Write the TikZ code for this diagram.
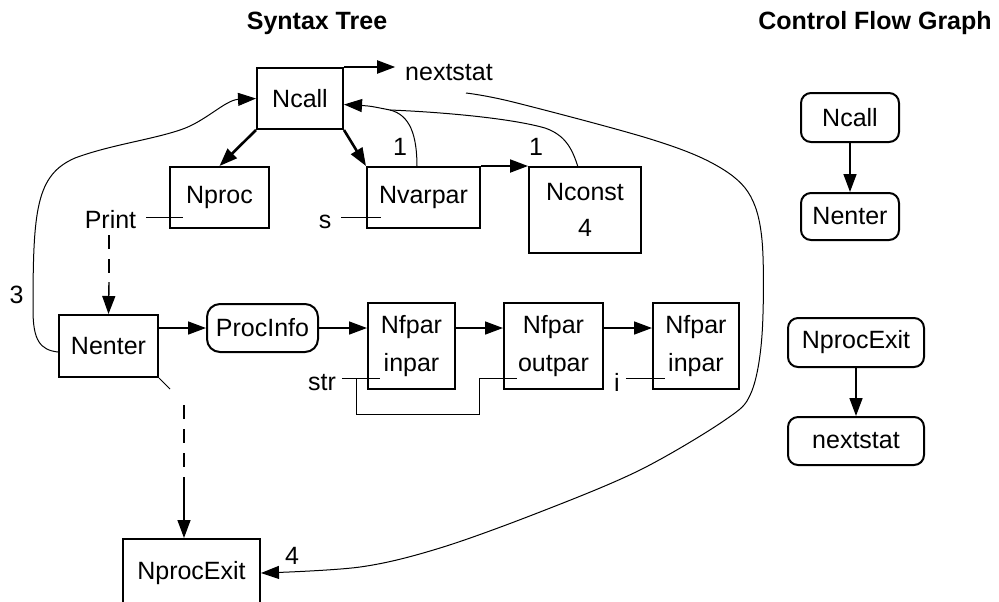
\documentclass[tikz,border=0pt]{standalone}
\usepackage{fontspec}
\setmainfont{Liberation Sans}
\usetikzlibrary{arrows.meta}
\begin{document}
\begin{tikzpicture}[x=0.5pt, y=-0.5pt, font=\fontsize{12.5}{15}\selectfont, line join=miter, >={Triangle[length=9pt,width=6.5pt]},
	box/.style={draw, line width=1pt, inner sep=0pt, align=center},
	rbox/.style={box, rounded corners=5pt},
	lbl/.style={inner sep=0pt, outer sep=5pt},
	thin/.style={line width=0.5pt},
	title/.style={font=\fontsize{12.5}{15}\selectfont\bfseries}]
	\useasboundingbox (0,0) rectangle (999,601);
	\node[title] (stitle) at (317,23) {Syntax Tree};
	\node[title] (ctitle) at (875,23) {Control Flow Graph};
	\node[box, minimum width=43pt, minimum height=30.5pt] (ncall) at (300,98.5) {Ncall};
	\node[box, minimum width=49.5pt, minimum height=30.5pt] (nproc) at (219.5,197.5) {Nproc};
	\node[box, minimum width=56.5pt, minimum height=30.5pt] (nvarpar) at (423.5,197.5) {Nvarpar};
	\node[box, minimum width=56pt, minimum height=43pt] (nconst) at (585,210) {Nconst\\[3pt]4};
	\node[box, minimum width=49.5pt, minimum height=31pt] (nenter) at (108.5,346) {Nenter};
	\node[rbox, rounded corners=6.5pt, minimum width=55.5pt, minimum height=24pt] (procinfo) at (262.5,328) {ProcInfo};
	\node[box, minimum width=43.5pt, minimum height=43pt] (nfparA) at (411.5,346) {Nfpar\\[4pt]inpar};
	\node[box, minimum width=49.5pt, minimum height=43pt] (nfparB) at (553.5,346) {Nfpar\\[4pt]outpar};
	\node[box, minimum width=43pt, minimum height=43pt] (nfparC) at (696,346) {Nfpar\\[4pt]inpar};
	\node[box, minimum width=68.5pt, minimum height=34pt] (nprocexit) at (191.5,573) {NprocExit};
	\node[lbl] (lnext) at (449,72.5) {nextstat};
	\node[lbl] (lprint) at (110.5,220) {Print};
	\node[lbl] (ls) at (325,221.5) {s};
	\node[lbl, outer sep=3pt] (lstr) at (322,383) {str};
	\node[lbl, outer sep=3pt] (li) at (617,382) {i};
	\node[lbl] (lthree) at (16.5,295) {3};
	\node[lbl] (loneA) at (400,147) {1};
	\node[lbl] (loneB) at (536,147) {1};
	\node[lbl] (lfour) at (292,556) {4};
	\coordinate (nprocin) at (183,217);
	\coordinate (nvarparin) at (381,217);
	\coordinate (inparA) at (380,378);
	\coordinate (outparB) at (517,378);
	\coordinate (inparC) at (665,378);
	\coordinate (strtap) at (356,378);
	\coordinate (loop) at (479,414);
	\coordinate (vtap) at (417,167);
	\coordinate (ctap) at (578,167);
	\coordinate (merge) at (390,110);
	\coordinate (nsfree) at (466,93);
	\coordinate (ntail) at (170,389);
	\coordinate (ptop) at (109,235);
	\coordinate (pmid) at (109,282);
	\coordinate (dtop) at (184,405);
	\coordinate (dmid) at (184,478);
	\draw[->, line width=1pt] (ncall.north east) -- (lnext.west |- ncall.north east);
	\draw[->, line width=1.3pt] (ncall.south west) -- (nproc.north);
	\draw[->, line width=1.3pt] (ncall.south east) -- (nvarpar.north west);
	\draw[->, line width=1pt] (nvarpar.north east) -- (nconst.north west);
	\draw[->, line width=0.8pt] (nenter.east |- procinfo) -- (procinfo.west);
	\draw[->, line width=0.8pt] (procinfo.east) -- (procinfo.east -| nfparA.west);
	\draw[->, line width=0.8pt] (nfparA.east |- procinfo) -- (nfparB.west |- procinfo);
	\draw[->, line width=0.8pt] (nfparB.east |- procinfo) -- (nfparC.west |- procinfo);
	\draw[thin] (lprint.east |- nprocin) -- (nprocin);
	\draw[thin] (ls.east |- nvarparin) -- (nvarparin);
	\draw[thin] (lstr.east |- inparA) -- (inparA);
	\draw[thin] (strtap) |- (loop) |- (outparB);
	\draw[thin] (li.east |- inparC) -- (inparC);
	\draw[thin] (nenter.south east) -- (ntail);
	\draw[line width=0.7pt, dash pattern=on 7pt off 5pt] (ptop) -- (pmid);
	\draw[->, line width=0.7pt] (pmid) -- (nenter.north);
	\draw[line width=0.7pt, dash pattern=on 7pt off 5pt] (dtop) -- (dmid);
	\draw[->, line width=0.7pt] (dmid) -- (dmid |- nprocexit.north);
	\draw[thin, ->] (vtap) .. controls (417,135) and (410,115) .. (merge) .. controls (370,106) .. ([yshift=-3pt]ncall.east);
	\draw[thin] (ctap) .. controls (572,148) and (565,135) .. (545,128) .. controls (510,118) and (440,112) .. (merge);
	\draw[thin, ->] ([yshift=-3pt]nenter.west) .. controls (40,350) and (33,340) .. (33,310) .. controls (33,210) and (36,175) .. (75,158) .. controls (110,145) and (150,140) .. (180,130) .. controls (205,122) and (225,100) .. (ncall.west);
	\draw[thin, ->] plot[smooth, tension=0.55] coordinates {(nsfree) (513,102) (647,138) (712,163) (748,192) (762,240) (762,335) (751,393) (725,420) (640,470) (540,512) (440,548) (360,567) (nprocexit.east)};
	\node[rbox, minimum width=49pt, minimum height=24.5pt] (cncall) at (850,117.5) {Ncall};
	\node[rbox, minimum width=49pt, minimum height=23.5pt] (cnenter) at (850,216.5) {Nenter};
	\node[rbox, minimum width=68pt, minimum height=24.5pt] (cexit) at (856,342.5) {NprocExit};
	\node[rbox, minimum width=68pt, minimum height=24pt] (cnext) at (856,441) {nextstat};
	\draw[->, line width=0.8pt] (cncall) -- (cnenter);
	\draw[->, line width=0.8pt] (cexit) -- (cnext);
\end{tikzpicture}
\end{document}
